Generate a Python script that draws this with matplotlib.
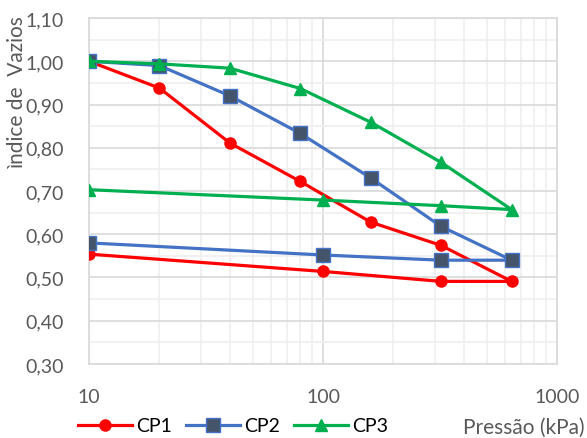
import matplotlib.pyplot as plt
from matplotlib.ticker import FixedLocator, FuncFormatter, LogLocator, NullFormatter

# Ensaio de adensamento: carregamento até 640 kPa e descarregamento
pressao = [10, 20, 40, 80, 160, 320, 640, 320, 100, 10]
cp1 = [1.000, 0.938, 0.811, 0.722, 0.628, 0.574, 0.491, 0.491, 0.514, 0.554]
cp2 = [1.000, 0.990, 0.920, 0.833, 0.730, 0.618, 0.540, 0.540, 0.552, 0.580]
cp3 = [1.000, 0.994, 0.984, 0.937, 0.859, 0.766, 0.657, 0.666, 0.679, 0.703]
y_ticks = [0.30, 0.40, 0.50, 0.60, 0.70, 0.80, 0.90, 1.00, 1.10]

plt.rcParams['font.family'] = ['Lato', 'DejaVu Sans']
cinza = '#595959'

fig = plt.figure(figsize=(5.87, 4.39), dpi=100)
ax = fig.add_axes([0.1516, 0.1686, 0.7973, 0.7881])

ax.plot(pressao, cp1, color='#FF0000', lw=2.3, marker='o', ms=8,
        mfc='#FF0000', mec='#FF0000', label='CP1', zorder=3)
ax.plot(pressao, cp2, color='#4472C4', lw=2.3, marker='s', ms=9.5,
        mfc='#44546A', mec='#4472C4', mew=1, label='CP2', zorder=3)
ax.plot(pressao, cp3, color='#00B050', lw=2.3, marker='^', ms=9,
        mfc='#00B050', mec='#00B050', label='CP3', zorder=3)

ax.set_xscale('log')
ax.set_xlim(10, 1000)
ax.set_ylim(0.30, 1.10)
ax.xaxis.set_major_locator(LogLocator(base=10))
ax.xaxis.set_minor_locator(LogLocator(base=10, subs=range(2, 10)))
ax.xaxis.set_minor_formatter(NullFormatter())
ax.xaxis.set_major_formatter(FuncFormatter(lambda v, p: f'{v:.0f}'))
ax.yaxis.set_major_locator(FixedLocator(y_ticks))
ax.yaxis.set_minor_locator(FixedLocator([v + 0.05 for v in y_ticks[:-1]]))
ax.yaxis.set_major_formatter(FuncFormatter(lambda v, p: f'{v:.2f}'.replace('.', ',')))

ax.grid(which='major', color='#D9D9D9', lw=1.2)
ax.grid(which='minor', color='#EFEFEF', lw=1.2)
ax.set_axisbelow(True)
for s in ax.spines.values():
    s.set_color('#D9D9D9')
    s.set_linewidth(1.2)
ax.tick_params(which='both', length=0, labelsize=14, labelcolor=cinza)
ax.tick_params(axis='x', pad=17)
ax.tick_params(axis='y', pad=18)

fig.text(17 / 587, 1 - 93 / 439, 'ìndice de  Vazios', rotation=90,
         ha='center', va='center', fontsize=15, color=cinza)
fig.text(585 / 587, 1 - 428 / 439, 'Pressão (kPa)', ha='right', va='center',
         fontsize=15, color=cinza)

fig.legend(loc='center left', bbox_to_anchor=(78 / 587, 1 - 427 / 439), ncol=3,
           frameon=False, fontsize=14, handlelength=2.8, handletextpad=0.2,
           columnspacing=0.7, borderpad=0, borderaxespad=0)

fig.savefig('out.png', dpi=100)
